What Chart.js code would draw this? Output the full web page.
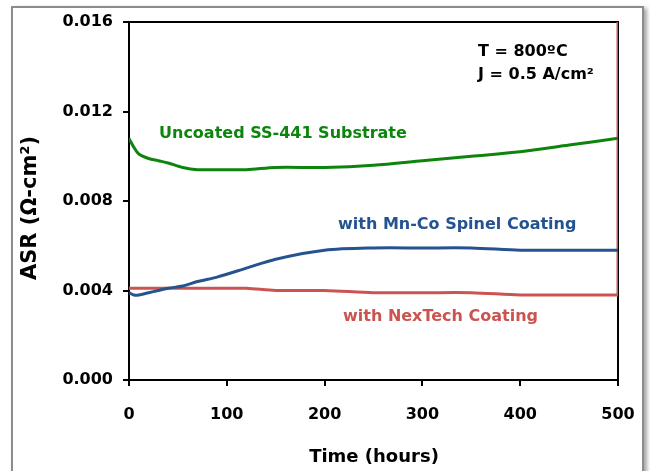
<!DOCTYPE html>
<html>
<head>
<meta charset="utf-8">
<script src="https://cdn.jsdelivr.net/npm/chart.js@4.4.0/dist/chart.umd.min.js"></script>
<style>
  body { margin: 0; background: #fff; }
  #wrap { position: relative; width: 650px; height: 471px; overflow: hidden; }
  #frame {
    position: absolute; left: 11px; top: 6px; width: 629px; height: 520px;
    border: 2px solid #8c8c8c; box-shadow: 3px 2px 4px rgba(0,0,0,0.35);
  }
  canvas { position: absolute; left: 0; top: 0; }
</style>
</head>
<body>
<div id="wrap">
  <div id="frame"></div>
  <canvas id="asrChart" width="650" height="471"></canvas>
</div>
<script>
// values (hours vs ASR in ohm-cm2)
const hours    = [0, 5, 10, 20, 30, 40, 55, 70, 90, 120, 150, 200, 250, 300, 350, 400, 450, 500];
const uncoated = [0.0108, 0.0104, 0.0101, 0.0099, 0.0098, 0.0097, 0.0095, 0.0094, 0.0094, 0.0094, 0.0095, 0.0095, 0.0096, 0.0098, 0.0100, 0.0102, 0.0105, 0.0108];
const mnCo     = [0.0039, 0.0038, 0.0038, 0.0039, 0.0040, 0.0041, 0.0042, 0.0044, 0.0046, 0.0050, 0.0054, 0.0058, 0.0059, 0.0059, 0.0059, 0.0058, 0.0058, 0.0058];
const nexTech  = [0.0041, 0.0041, 0.0041, 0.0041, 0.0041, 0.0041, 0.0041, 0.0041, 0.0041, 0.0041, 0.0040, 0.0040, 0.0039, 0.0039, 0.0039, 0.0038, 0.0038, 0.0038];
// the NexTech trace ends with a jump straight up the right edge
const nexTechTailHours = [500, 500];
const nexTechTail      = [0.0038, 0.016];

const xTicks = [0, 100, 200, 300, 400, 500];
const yTicks = [0.000, 0.004, 0.008, 0.012, 0.016];

const GREEN = '#0d850d';
const BLUE = '#24538f';
const RED = '#cb5451';
const FONT = "'DejaVu Sans', Verdana, sans-serif";

function toPoints(xs, ys) {
    return xs.map((x, i) => ({ x: x, y: ys[i] }));
}

function lineSet(label, xs, ys, color, tension) {
    return {
        label: label,
        data: toPoints(xs, ys),
        borderColor: color,
        borderWidth: 3,
        pointRadius: 0,
        tension: tension,
        fill: false
    };
}

// frame, axis titles and in-plot notes
const notesPlugin = {
    id: 'notes',
    beforeDatasetsDraw(chart) {
        const { ctx, chartArea: a } = chart;
        ctx.save();
        ctx.strokeStyle = '#000';
        ctx.lineWidth = 2;
        ctx.beginPath();
        ctx.moveTo(a.left, a.top);
        ctx.lineTo(a.right, a.top);
        ctx.lineTo(a.right, a.bottom);
        ctx.stroke();
        ctx.restore();
    },
    afterDraw(chart) {
        const ctx = chart.ctx;
        ctx.save();
        ctx.textBaseline = 'middle';
        ctx.textAlign = 'left';

        function txt(s, x, y, color, size) {
            ctx.fillStyle = color;
            ctx.font = 'bold ' + size + 'px ' + FONT;
            ctx.fillText(s, x, y);
        }
        txt('Uncoated SS-441 Substrate', 159, 134, GREEN, 16);
        txt('with Mn-Co Spinel Coating', 338, 225, BLUE, 16);
        txt('with NexTech Coating', 343, 317, RED, 16);
        txt('T = 800ºC', 478, 52, '#000', 16);
        txt('J = 0.5 A/cm²', 478, 75, '#000', 16);

        // x title
        ctx.textAlign = 'center';
        txt('Time (hours)', 374, 457, '#000', 18);

        // y title
        ctx.translate(31, 208);
        ctx.rotate(-Math.PI / 2);
        txt('ASR (Ω-cm²)', 0, 0, '#000', 21);
        ctx.restore();
    }
};

const tickFont = { family: FONT, size: 16, weight: 'bold' };

new Chart(document.getElementById('asrChart'), {
    type: 'line',
    data: {
        datasets: [
            lineSet('Uncoated SS-441 Substrate', hours, uncoated, GREEN, 0.3),
            lineSet('with Mn-Co Spinel Coating', hours, mnCo, BLUE, 0.3),
            lineSet('with NexTech Coating', hours, nexTech, RED, 0.3),
            lineSet('NexTech tail', nexTechTailHours, nexTechTail, RED, 0)
        ]
    },
    options: {
        responsive: false,
        animation: false,
        layout: { padding: { left: 0, top: 22, right: 32, bottom: 0 } },
        plugins: {
            legend: { display: false },
            tooltip: { enabled: false }
        },
        scales: {
            x: {
                type: 'linear',
                min: 0,
                max: 500,
                afterBuildTicks: s => { s.ticks = xTicks.map(v => ({ value: v })); },
                afterFit: s => { s.height = 91; s.paddingLeft = 0; s.paddingRight = 0; },
                ticks: { color: '#000', font: tickFont, padding: 19, maxRotation: 0 },
                grid: { drawOnChartArea: false, color: '#000', lineWidth: 2, tickLength: 6 },
                border: { display: true, color: '#000', width: 2 }
            },
            y: {
                min: 0,
                max: 0.016,
                afterBuildTicks: s => { s.ticks = yTicks.map(v => ({ value: v })); },
                afterFit: s => { s.width = 129; s.paddingTop = 0; s.paddingBottom = 0; },
                ticks: { color: '#000', font: tickFont, padding: 10, callback: v => v.toFixed(3) },
                grid: { drawOnChartArea: false, color: '#000', lineWidth: 2, tickLength: 6 },
                border: { display: true, color: '#000', width: 2 }
            }
        }
    },
    plugins: [notesPlugin]
});
</script>
</body>
</html>
